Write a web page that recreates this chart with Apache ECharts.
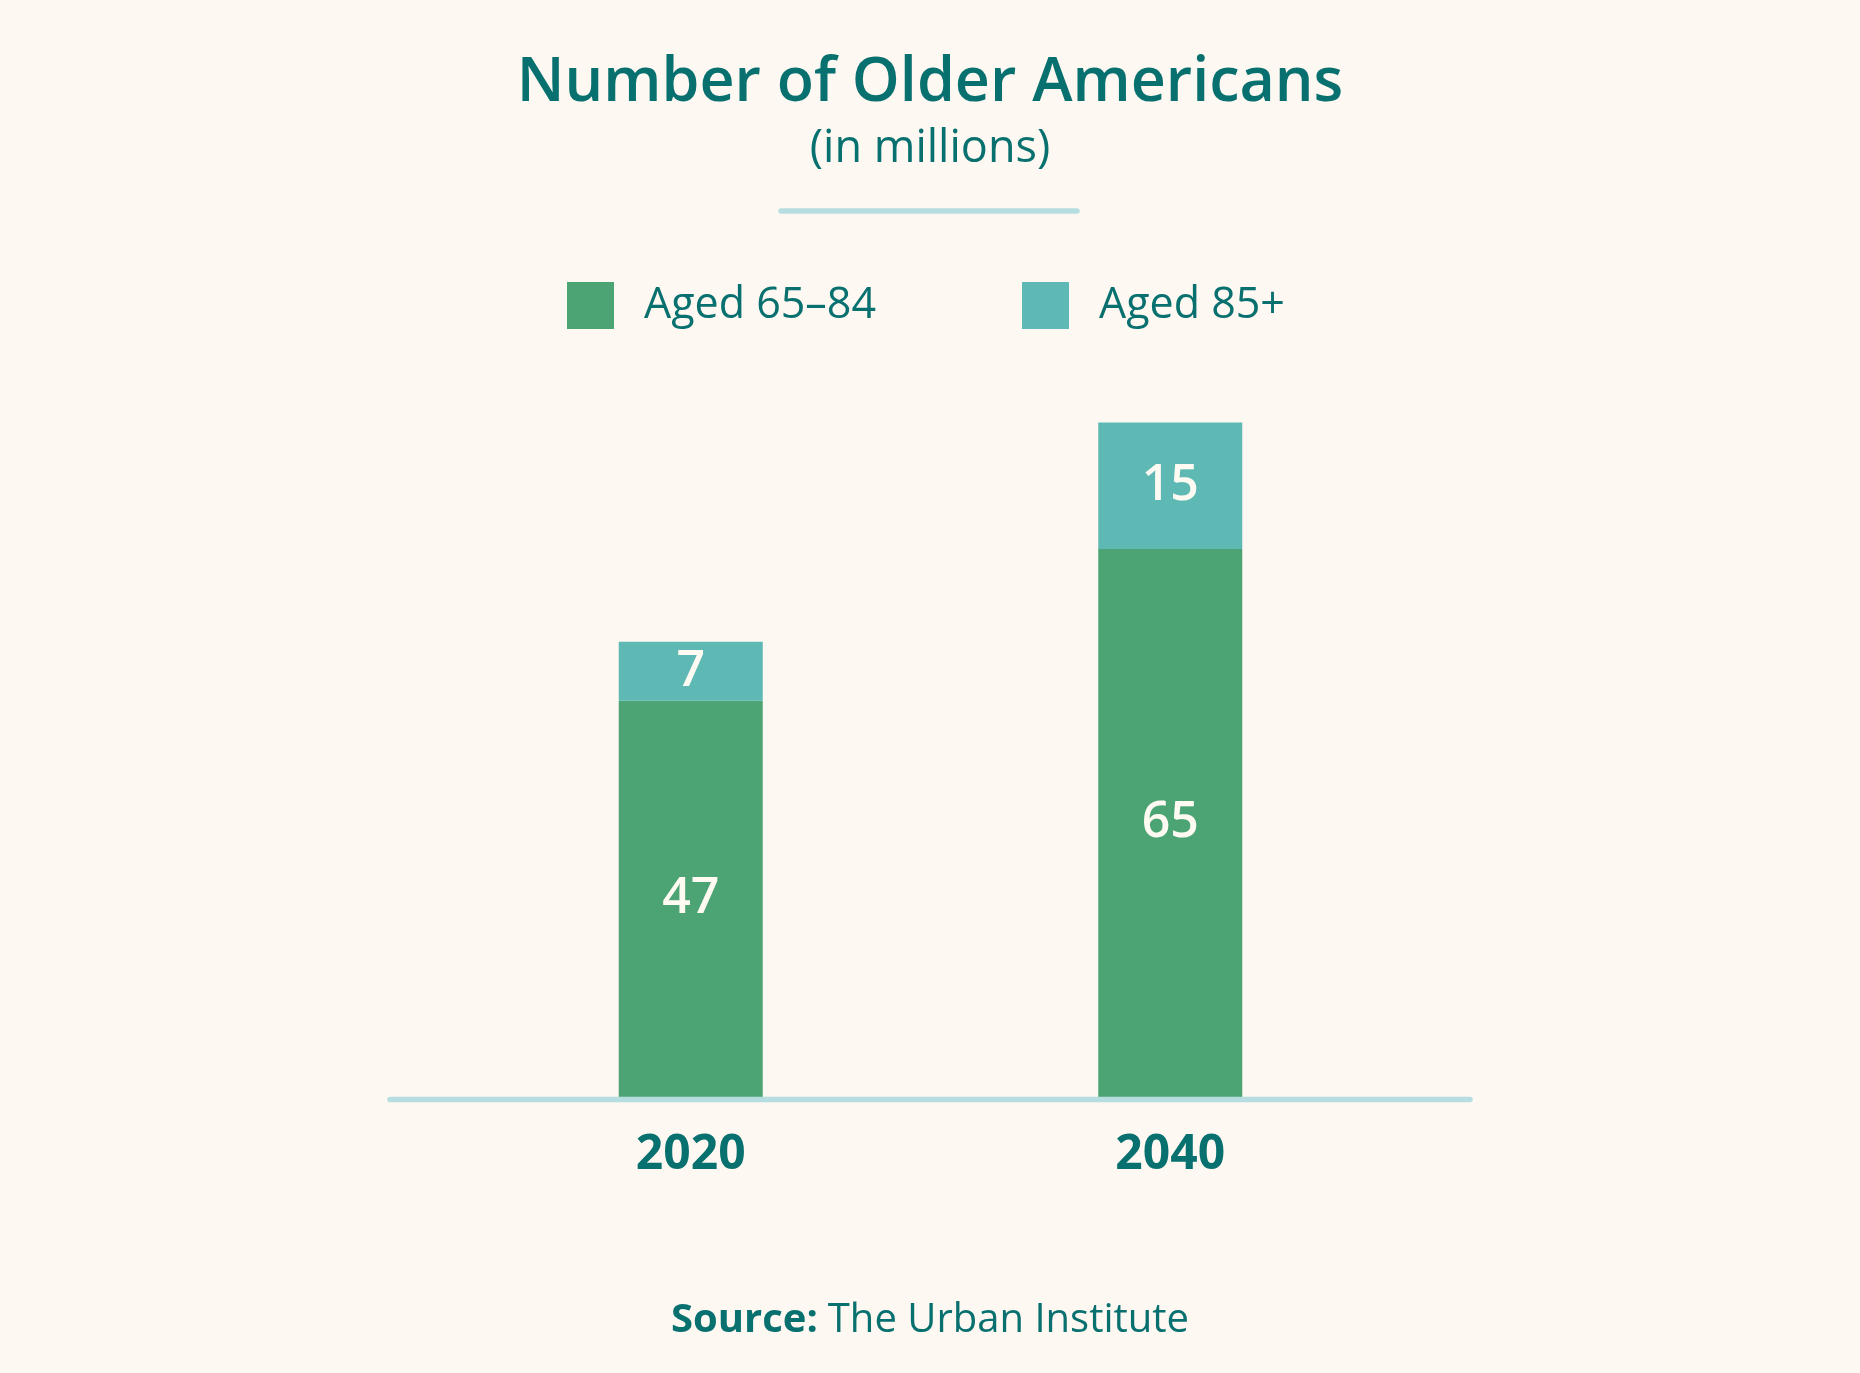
<!DOCTYPE html>
<html>
<head>
<meta charset="utf-8">
<script src="https://cdn.jsdelivr.net/npm/echarts@6/dist/echarts.min.js"></script>
<style>
html,body{margin:0;padding:0;background:#fdf8f2;}
#c{width:1860px;height:1373px;}
</style>
</head>
<body>
<div id="c"></div>
<script>
const categories = ['2020', '2040'];
const aged65to84 = [47, 65];
const aged85plus = [7, 15];
const seriesNames = ['Aged 65\u201384', 'Aged 85+'];

const TEXT = '#08706f';
const FONT = '"Open Sans"';
const chart = echarts.init(document.getElementById('c'));

chart.setOption({
  backgroundColor: '#fdf8f2',
  animation: false,
  title: [
    { text: 'Number of Older Americans', left: 'center', top: 46,
      textStyle: { fontFamily: FONT, fontSize: 61, fontWeight: 600, color: TEXT, lineHeight: 66 } },
    { text: '(in millions)', left: 'center', top: 119,
      textStyle: { fontFamily: FONT, fontSize: 45, fontWeight: 'normal', color: TEXT, lineHeight: 50 } },
    { text: '{b|Source:}  {n|The Urban Institute}', left: 'center', top: 1292,
      textStyle: { rich: {
        b: { fontFamily: FONT, fontSize: 40, fontWeight: 'bold', color: TEXT, lineHeight: 48 },
        n: { fontFamily: FONT, fontSize: 40, fontWeight: 'normal', color: TEXT, lineHeight: 48 }
      } } }
  ],
  legend: [
    { data: [seriesNames[0]], left: 567, top: 282, padding: 0, itemWidth: 47, itemHeight: 47, icon: 'rect',
      itemStyle: { borderWidth: 0 },
      textStyle: { fontFamily: FONT, fontSize: 43, color: TEXT, padding: [0, 0, 0, 25] } },
    { data: [seriesNames[1]], left: 1022, top: 282, padding: 0, itemWidth: 47, itemHeight: 47, icon: 'rect',
      itemStyle: { borderWidth: 0 },
      textStyle: { fontFamily: FONT, fontSize: 43, color: TEXT, padding: [0, 0, 0, 25] } }
  ],
  grid: { left: 451, right: 450, top: 254, bottom: 276 },
  xAxis: {
    type: 'category', data: categories,
    axisLine: { show: false }, axisTick: { show: false },
    axisLabel: { margin: 34, fontFamily: FONT, fontSize: 48, fontWeight: 'bold', color: TEXT }
  },
  yAxis: { type: 'value', min: 0, max: 100, show: false, splitLine: { show: false } },
  series: [
    { name: seriesNames[0], type: 'bar', stack: 'total', data: aged65to84, barWidth: 144,
      itemStyle: { color: '#4ca474' },
      label: { show: true, position: 'inside', color: '#fffaf2', fontFamily: FONT, fontSize: 50, fontWeight: 600 } },
    { name: seriesNames[1], type: 'bar', stack: 'total', data: aged85plus, barWidth: 144,
      itemStyle: { color: '#5eb8b3' },
      label: { show: true, position: 'inside', color: '#fffaf2', fontFamily: FONT, fontSize: 50, fontWeight: 600 } }
  ],
  graphic: [
    { type: 'line', z: 100, shape: { x1: 390, y1: 1099.5, x2: 1470, y2: 1099.5 },
      style: { stroke: '#b6dde0', lineWidth: 5.5, lineCap: 'round' } },
    { type: 'line', z: 100, shape: { x1: 781, y1: 211, x2: 1077, y2: 211 },
      style: { stroke: '#b6dde0', lineWidth: 5.5, lineCap: 'round' } }
  ]
});
</script>
</body>
</html>
